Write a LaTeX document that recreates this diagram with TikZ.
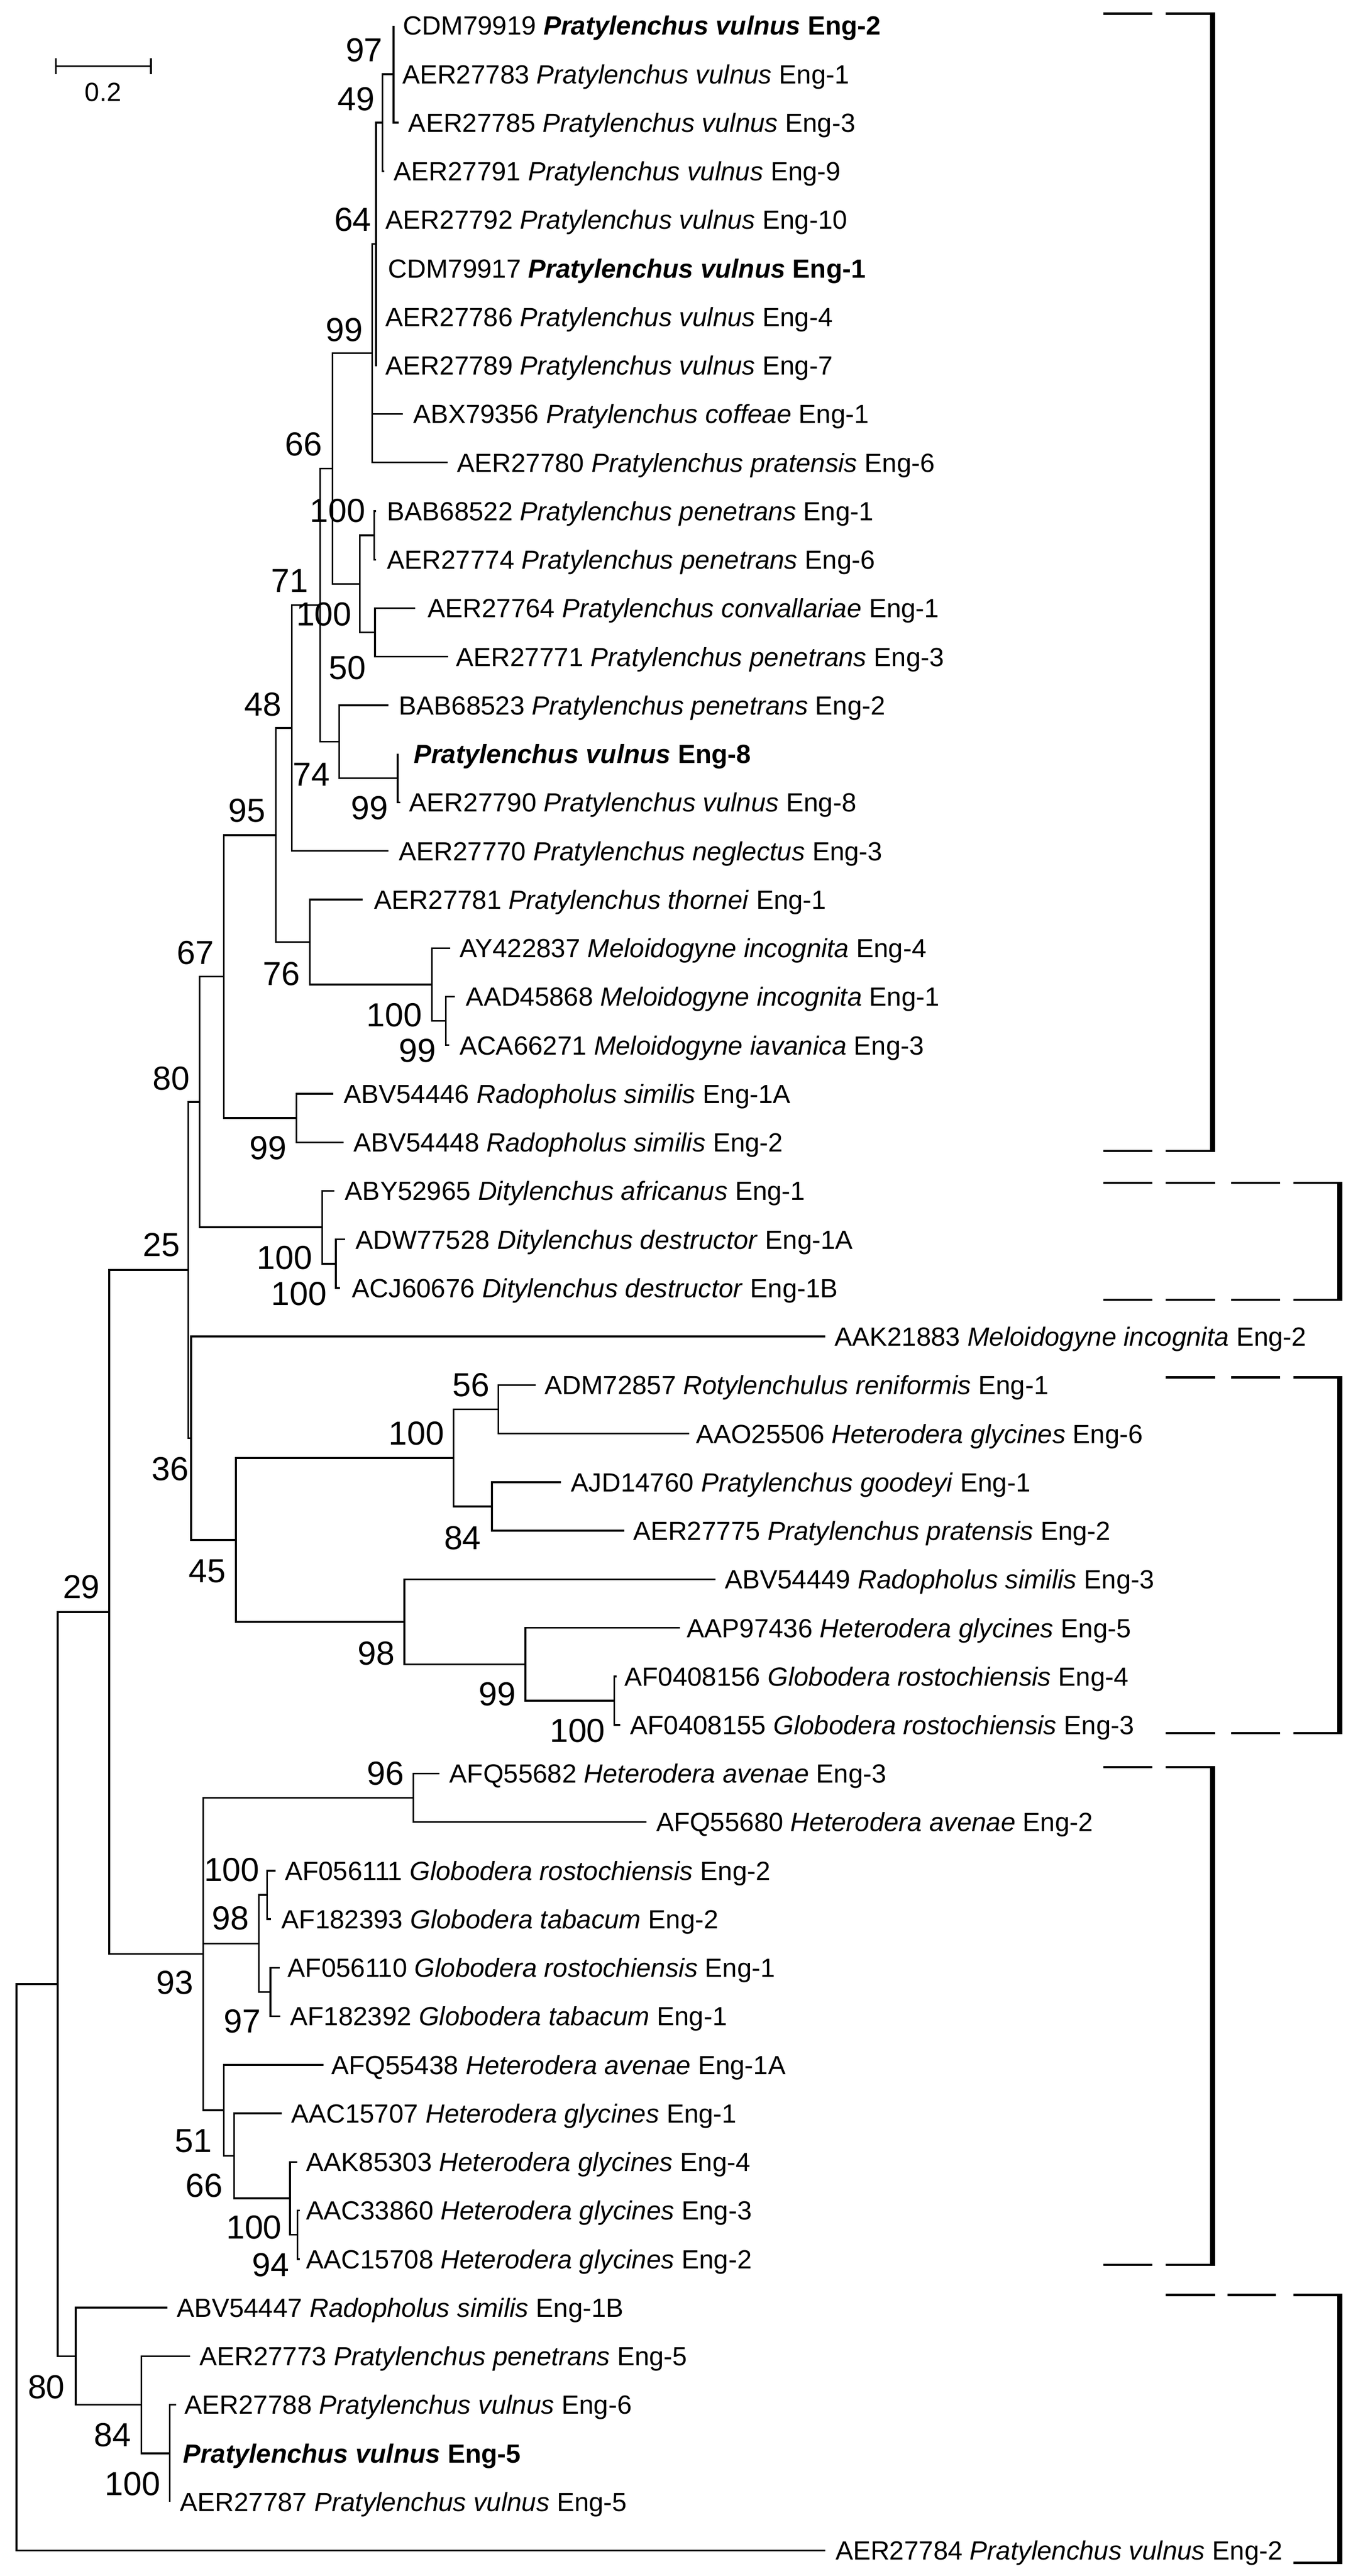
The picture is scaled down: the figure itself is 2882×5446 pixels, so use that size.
\documentclass[tikz,border=0pt]{standalone}
\usepackage{fontspec}
\setmainfont{Liberation Sans}
\newcommand\leafx[4]{%
  \coordinate (t#1) at (#2,{54+102.65*(#1-1)});
  \node[lab] (l#1) at (#3,{74+102.65*(#1-1)}) {#4};}
\begin{document}
\begin{tikzpicture}[x=0.01cm,y=-0.01cm,
  br/.style={line width=1.05pt,line join=miter,line cap=butt},
  lab/.style={anchor=base west,inner sep=0pt,font=\fontsize{15.8pt}{19pt}\selectfont},
  bs/.style={anchor=center,inner sep=0pt,font=\fontsize{20pt}{24pt}\selectfont},
  brk/.style={line width=1.4pt,line cap=butt},
  brv/.style={line width=3.1pt,line cap=butt}]
\useasboundingbox[fill=white] (0,0) rectangle (2882,5446);

% ---------- leaves ----------
\leafx{1}{832}{852}{CDM79919 \textbf{\textit{Pratylenchus vulnus} Eng-2}}
\leafx{2}{832}{850}{AER27783 \textit{Pratylenchus vulnus} Eng-1}
\leafx{3}{843}{863}{AER27785 \textit{Pratylenchus vulnus} Eng-3}
\leafx{4}{812}{832}{AER27791 \textit{Pratylenchus vulnus} Eng-9}
\leafx{5}{797}{815}{AER27792 \textit{Pratylenchus vulnus} Eng-10}
\leafx{6}{797}{820}{CDM79917 \textbf{\textit{Pratylenchus vulnus} Eng-1}}
\leafx{7}{797}{815}{AER27786 \textit{Pratylenchus vulnus} Eng-4}
\leafx{8}{797}{815}{AER27789 \textit{Pratylenchus vulnus} Eng-7}
\leafx{9}{852}{873}{ABX79356 \textit{Pratylenchus coffeae} Eng-1}
\leafx{10}{947}{966}{AER27780 \textit{Pratylenchus pratensis} Eng-6}
\leafx{11}{795}{818}{BAB68522 \textit{Pratylenchus penetrans} Eng-1}
\leafx{12}{795}{818}{AER27774 \textit{Pratylenchus penetrans} Eng-6}
\leafx{13}{878}{904}{AER27764 \textit{Pratylenchus convallariae} Eng-1}
\leafx{14}{948}{964}{AER27771 \textit{Pratylenchus penetrans} Eng-3}
\leafx{15}{821}{843}{BAB68523 \textit{Pratylenchus penetrans} Eng-2}
\leafx{16}{841}{874}{\textbf{\textit{Pratylenchus vulnus} Eng-8}}
\leafx{17}{846}{865}{AER27790 \textit{Pratylenchus vulnus} Eng-8}
\leafx{18}{821}{843}{AER27770 \textit{Pratylenchus neglectus} Eng-3}
\leafx{19}{767}{791}{AER27781 \textit{Pratylenchus thornei} Eng-1}
\leafx{20}{952}{971}{AY422837 \textit{Meloidogyne incognita} Eng-4}
\leafx{21}{962}{985}{AAD45868 \textit{Meloidogyne incognita} Eng-1}
\leafx{22}{950}{971}{ACA66271 \textit{Meloidogyne iavanica} Eng-3}
\leafx{23}{705}{726}{ABV54446 \textit{Radopholus similis} Eng-1A}
\leafx{24}{726}{747}{ABV54448 \textit{Radopholus similis} Eng-2}
\leafx{25}{707}{729}{ABY52965 \textit{Ditylenchus africanus} Eng-1}
\leafx{26}{730}{751}{ADW77528 \textit{Ditylenchus destructor} Eng-1A}
\leafx{27}{719}{744}{ACJ60676 \textit{Ditylenchus destructor} Eng-1B}
\leafx{28}{1745}{1764}{AAK21883 \textit{Meloidogyne incognita} Eng-2}
\leafx{29}{1133}{1151}{ADM72857 \textit{Rotylenchulus reniformis} Eng-1}
\leafx{30}{1457}{1471}{AAO25506 \textit{Heterodera glycines} Eng-6}
\leafx{31}{1186}{1207}{AJD14760 \textit{Pratylenchus goodeyi} Eng-1}
\leafx{32}{1320}{1338}{AER27775 \textit{Pratylenchus pratensis} Eng-2}
\leafx{33}{1513}{1532}{ABV54449 \textit{Radopholus similis} Eng-3}
\leafx{34}{1438}{1452}{AAP97436 \textit{Heterodera glycines} Eng-5}
\leafx{35}{1304}{1320}{AF0408156 \textit{Globodera rostochiensis} Eng-4}
\leafx{36}{1311}{1332}{AF0408155 \textit{Globodera rostochiensis} Eng-3}
\leafx{37}{929}{950}{AFQ55682 \textit{Heterodera avenae} Eng-3}
\leafx{38}{1367}{1387}{AFQ55680 \textit{Heterodera avenae} Eng-2}
\leafx{39}{583}{602}{AF056111 \textit{Globodera rostochiensis} Eng-2}
\leafx{40}{573}{595}{AF182393 \textit{Globodera tabacum} Eng-2}
\leafx{41}{591}{608}{AF056110 \textit{Globodera rostochiensis} Eng-1}
\leafx{42}{593}{613}{AF182392 \textit{Globodera tabacum} Eng-1}
\leafx{43}{684}{700}{AFQ55438 \textit{Heterodera avenae} Eng-1A}
\leafx{44}{596}{615}{AAC15707 \textit{Heterodera glycines} Eng-1}
\leafx{45}{629}{647}{AAK85303 \textit{Heterodera glycines} Eng-4}
\leafx{46}{634}{647}{AAC33860 \textit{Heterodera glycines} Eng-3}
\leafx{47}{634}{647}{AAC15708 \textit{Heterodera glycines} Eng-2}
\leafx{48}{354}{373}{ABV54447 \textit{Radopholus similis} Eng-1B}
\leafx{49}{402}{421}{AER27773 \textit{Pratylenchus penetrans} Eng-5}
\leafx{50}{372}{390}{AER27788 \textit{Pratylenchus vulnus} Eng-6}
\leafx{51}{359}{387}{\textbf{\textit{Pratylenchus vulnus} Eng-5}}
\leafx{52}{359}{380}{AER27787 \textit{Pratylenchus vulnus} Eng-5}
\leafx{53}{1745}{1766}{AER27784 \textit{Pratylenchus vulnus} Eng-2}

% ---------- internal nodes ----------
\coordinate (n97) at (832,156.7);
\coordinate (n49) at (809,259.3);
\coordinate (n64) at (795,515.9);
\coordinate (n99a) at (787,746.9);
\coordinate (n100c) at (791,1131.8);
\coordinate (n50) at (793,1337.1);
\coordinate (n100b) at (761,1234.5);
\coordinate (n66) at (703,990.7);
\coordinate (n99b) at (841,1645.1);
\coordinate (n74) at (717,1568.1);
\coordinate (n71) at (677,1279.4);
\coordinate (n48) at (617,1539.2);
\coordinate (n99c) at (943,2158.3);
\coordinate (n100d) at (913,2081.3);
\coordinate (n76) at (655,1991.5);
\coordinate (n95) at (583,1765.4);
\coordinate (n99d) at (627,2363.6);
\coordinate (n67) at (473,2064.5);
\coordinate (n100f) at (710,2671.6);
\coordinate (n100e) at (681,2594.6);
\coordinate (n80) at (422,2329.6);
\coordinate (n56) at (1054,2979.5);
\coordinate (n84) at (1040,3184.8);
\coordinate (n100g) at (959,3082.2);
\coordinate (n100h) at (1299,3595.4);
\coordinate (n99e) at (1111,3518.4);
\coordinate (n98) at (855,3428.6);
\coordinate (n45) at (499,3255.4);
\coordinate (n36) at (404,3040.5);
\coordinate (n25) at (398,2685);
\coordinate (n96) at (874,3800.7);
\coordinate (n100i) at (565,4006);
\coordinate (n97b) at (572,4211.3);
\coordinate (n98b) at (547,4108.7);
\coordinate (n94) at (629,4724.6);
\coordinate (n100j) at (613,4647.6);
\coordinate (n66b) at (495,4557.8);
\coordinate (n51) at (473,4461.5);
\coordinate (n93) at (430,4131);
\coordinate (n29) at (231,3408);
\coordinate (n100k) at (359,5186.5);
\coordinate (n84b) at (299,5083.9);
\coordinate (n80b) at (160,4981.2);
\coordinate (n122) at (122,4194.6);
\coordinate (root) at (35,4793.2);

% ---------- branches ----------
\foreach \p/\c in {n97/t1,n97/t2,n97/t3,n49/n97,n49/t4,
  n64/n49,n64/t5,n64/t6,n64/t7,n64/t8,n99a/n64,n99a/t9,n99a/t10,
  n100c/t11,n100c/t12,n50/t13,n50/t14,n100b/n100c,n100b/n50,
  n66/n99a,n66/n100b,n99b/t16,n99b/t17,n74/t15,n74/n99b,
  n71/n66,n71/n74,n48/n71,n48/t18,n99c/t21,n99c/t22,
  n100d/t20,n100d/n99c,n76/t19,n76/n100d,n95/n48,n95/n76,
  n99d/t23,n99d/t24,n67/n95,n67/n99d,n100f/t26,n100f/t27,
  n100e/t25,n100e/n100f,n80/n67,n80/n100e,
  n56/t29,n56/t30,n84/t31,n84/t32,n100g/n56,n100g/n84,
  n100h/t35,n100h/t36,n99e/t34,n99e/n100h,n98/t33,n98/n99e,
  n45/n100g,n45/n98,n36/t28,n36/n45,n25/n80,n25/n36,
  n96/t37,n96/t38,n100i/t39,n100i/t40,n97b/t41,n97b/t42,
  n98b/n100i,n98b/n97b,n94/t46,n94/t47,n100j/t45,n100j/n94,
  n66b/t44,n66b/n100j,n51/t43,n51/n66b,n93/n96,n93/n98b,n93/n51,
  n29/n25,n29/n93,n100k/t50,n100k/t51,n100k/t52,n84b/t49,n84b/n100k,
  n80b/t48,n80b/n84b,n122/n29,n122/n80b,root/n122,root/t53}
  \draw[br] (\p) |- (\c);

% ---------- bootstrap values ----------
\foreach \n/\x/\y/\v in {1/770/106/97,2/753/209/49,3/746/464/64,4/728/697/99,
  5/642/939/66,6/714/1080/100,7/613/1228/71,8/685/1299/100,9/735/1412/50,
  10/556/1489/48,11/658/1637/74,12/781/1708/99,13/522/1714/95,14/413/2014/67,
  15/595/2059/76,16/834/2146/100,17/883/2221/99,18/362/2280/80,19/567/2427/99,
  20/341/2632/25,21/602/2659/100,22/632/2735/100,23/996/2928/56,24/881/3030/100,
  25/360/3106/36,26/978/3251/84,27/438/3322/45,28/172/3355/29,29/796/3495/98,
  30/1052/3581/99,31/1221/3659/100,32/815/3749/96,33/490/3953/100,34/487/4055/98,
  35/370/4191/93,36/512/4273/97,37/409/4526/51,38/432/4621/66,39/537/4709/100,
  40/572/4788/94,41/98/5046/80,42/238/5148/84,43/280/5251/100}
  \node[bs] (b\n) at (\x,\y) {\v};

% ---------- scale bar ----------
\coordinate (sbl) at (118,140);
\coordinate (sbr) at (319,140);
\draw[br] (sbl) -- (sbr);
\draw[br] ([yshift=0.17cm]sbl) -- ([yshift=-0.17cm]sbl);
\draw[br] ([yshift=0.17cm]sbr) -- ([yshift=-0.17cm]sbr);
\node[anchor=center,inner sep=0pt,font=\fontsize{15.8pt}{19pt}\selectfont] (sbt) at (218,195) {0.2};

% ---------- group brackets ----------
% bracket 1
\draw[brk] (2333,29) -- (2437,29) (2465,29) -- (2569,29);
\draw[brk] (2333,2433) -- (2437,2433) (2465,2433) -- (2569,2433);
\draw[brv] (2563.5,26.5) -- (2563.5,2435.5);
% bracket 2
\draw[brk] (2333,2501) -- (2437,2501) (2465,2501) -- (2569,2501)
  (2603,2501) -- (2707,2501) (2735,2501) -- (2838,2501);
\draw[brk] (2333,2748) -- (2437,2748) (2465,2748) -- (2569,2748)
  (2603,2748) -- (2707,2748) (2735,2748) -- (2838,2748);
\draw[brv] (2832.5,2498.5) -- (2832.5,2750.5);
% bracket 3
\draw[brk] (2465,2912) -- (2569,2912) (2603,2912) -- (2707,2912) (2735,2912) -- (2838,2912);
\draw[brk] (2465,3664) -- (2569,3664) (2603,3664) -- (2707,3664) (2735,3664) -- (2838,3664);
\draw[brv] (2832.5,2909.5) -- (2832.5,3666.5);
% bracket 4
\draw[brk] (2333,3736) -- (2437,3736) (2465,3736) -- (2569,3736);
\draw[brk] (2333,4788) -- (2437,4788) (2465,4788) -- (2569,4788);
\draw[brv] (2563.5,3733.5) -- (2563.5,4790.5);
% bracket 5
\draw[brk] (2465,4852) -- (2569,4852) (2596,4852) -- (2698,4852) (2735,4852) -- (2838,4852);
\draw[brk] (2735,5418) -- (2838,5418);
\draw[brv] (2832.5,4849.5) -- (2832.5,5420.5);
\end{tikzpicture}
\end{document}
